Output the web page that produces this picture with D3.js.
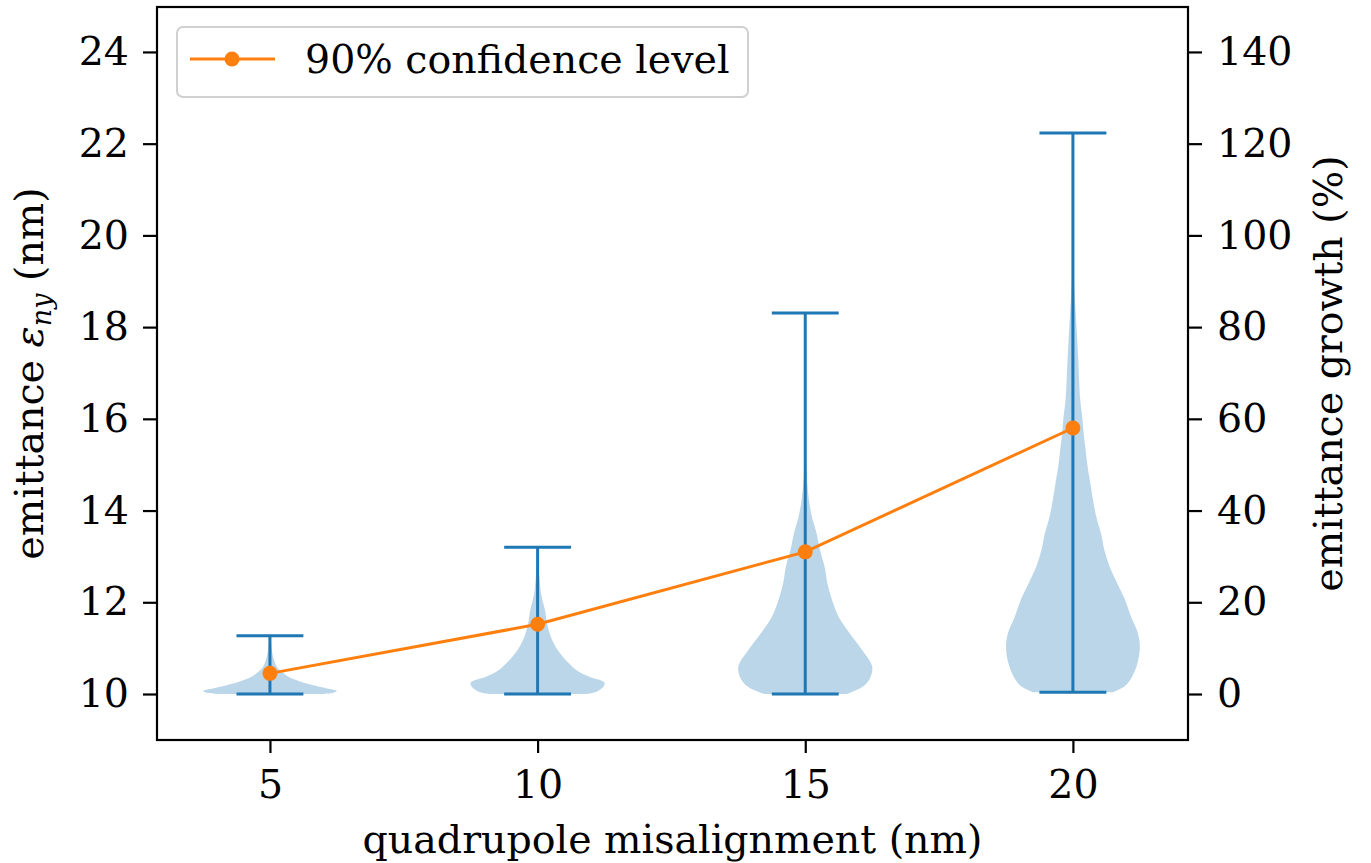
<!DOCTYPE html>
<html>
<head>
<meta charset="utf-8">
<script src="https://cdn.jsdelivr.net/npm/d3@7"></script>
<style>
  body { margin: 0; background: #fff; }
  svg { display: block; }
  text { font-family: "DejaVu Serif", serif; fill: #000; }
</style>
</head>
<body>
<svg id="chart" width="1371" height="863"></svg>
<script>
// ---- data ----
const positions = [5, 10, 15, 20];
const mins = [10.0, 10.0, 10.0, 10.04];
const maxs = [11.27, 13.2, 18.31, 22.23];
const confidence90 = [10.45, 11.52, 13.1, 15.8];
const xTicks = [5, 10, 15, 20];
const yTicks = [10, 12, 14, 16, 18, 20, 22, 24];
const growthTicks = [0, 20, 40, 60, 80, 100, 120, 140];
const legendLabel = "90% confidence level";
const xLabel = "quadrupole misalignment (nm)";
const y2Label = "emittance growth (%)";
// violin density profiles: [emittance, relative half-width]
const violin5 = [[10.0,0.72],[10.03,0.95],[10.07,1.0],[10.12,0.85],[10.2,0.62],[10.3,0.4],[10.4,0.25],[10.5,0.16],[10.6,0.1],[10.8,0.05],[11.0,0.025],[11.27,0.01]];
const violin10 = [[10.0,0.72],[10.05,0.88],[10.15,0.98],[10.25,1.0],[10.37,0.78],[10.5,0.6],[10.68,0.46],[10.96,0.3],[11.24,0.2],[11.55,0.14],[11.83,0.11],[12.0,0.08],[12.2,0.05],[12.5,0.03],[12.8,0.012],[13.2,0.004]];
const violin15 = [[10.0,0.62],[10.15,0.85],[10.35,0.97],[10.6,1.0],[10.96,0.85],[11.33,0.66],[11.68,0.5],[12.05,0.4],[12.42,0.33],[12.77,0.29],[13.14,0.22],[13.5,0.17],[13.86,0.1],[14.23,0.055],[14.6,0.03],[14.95,0.015],[15.5,0.006],[16.5,0.003],[18.31,0.002]];
const violin20 = [[10.04,0.6],[10.2,0.8],[10.6,0.95],[11.03,1.0],[11.33,0.97],[11.68,0.87],[12.05,0.78],[12.42,0.66],[12.77,0.55],[13.14,0.47],[13.5,0.42],[13.86,0.35],[14.23,0.3],[14.6,0.26],[14.95,0.22],[15.32,0.19],[15.69,0.16],[16.04,0.14],[16.41,0.11],[17.13,0.085],[17.87,0.06],[18.6,0.03],[19.3,0.01],[20.5,0.003],[22.23,0.001]];
const violins = [violin5, violin10, violin15, violin20];
const violinWidth = 2.5;

// ---- layout ----
const W = 1371, H = 863;
const m = {left: 157, right: 183, top: 7, bottom: 123};
const pw = W - m.left - m.right, ph = H - m.top - m.bottom;
const blue = "#1f77b4", orange = "#ff7f0e";
const FS = "39.5px";

const svg = d3.select("#chart");
const g = svg.append("g").attr("transform", `translate(${m.left},${m.top})`);

const x = d3.scaleLinear().domain([2.89, 22.15]).range([0, pw]);
const y = d3.scaleLinear().domain([8.997, 24.98]).range([ph, 0]);
const y2 = d3.scaleLinear().domain([(8.997-10)*10, (24.98-10)*10]).range([ph, 0]);

// violins
const halfW = violinWidth / 2;
violins.forEach((prof, i) => {
  const p = positions[i];
  const area = d3.area()
    .curve(d3.curveCatmullRom.alpha(0.5))
    .y(d => y(d[0]))
    .x0(d => x(p - d[1] * halfW))
    .x1(d => x(p + d[1] * halfW));
  g.append("path").datum(prof).attr("d", area)
    .attr("fill", blue).attr("fill-opacity", 0.3).attr("stroke", "none");
});

// violin lines
positions.forEach((p, i) => {
  const cw = violinWidth * 0.25;
  const lg = g.append("g").attr("stroke", blue).attr("stroke-width", 3);
  lg.append("line").attr("x1", x(p)).attr("x2", x(p)).attr("y1", y(mins[i])).attr("y2", y(maxs[i]));
  lg.append("line").attr("x1", x(p - cw)).attr("x2", x(p + cw)).attr("y1", y(mins[i])).attr("y2", y(mins[i]));
  lg.append("line").attr("x1", x(p - cw)).attr("x2", x(p + cw)).attr("y1", y(maxs[i])).attr("y2", y(maxs[i]));
});

// orange line
const line = d3.line().x((d, i) => x(positions[i])).y(d => y(d));
g.append("path").datum(confidence90).attr("d", line)
  .attr("fill", "none").attr("stroke", orange).attr("stroke-width", 3);
g.selectAll("circle.pt").data(confidence90).enter().append("circle")
  .attr("cx", (d, i) => x(positions[i])).attr("cy", d => y(d)).attr("r", 7.5).attr("fill", orange);

// frame
g.append("rect").attr("x", 0).attr("y", 0).attr("width", pw).attr("height", ph)
  .attr("fill", "none").attr("stroke", "#000").attr("stroke-width", 2.2);

// axes
function styleAxis(sel) {
  sel.select(".domain").remove();
  sel.selectAll(".tick line").attr("stroke", "#000").attr("stroke-width", 2.2);
  sel.selectAll(".tick text").style("font-family", "DejaVu Serif").style("font-size", FS).attr("fill", "#000");
}
g.append("g").attr("transform", `translate(0,${ph})`)
  .call(d3.axisBottom(x).tickValues(xTicks).tickSize(13).tickPadding(17).tickFormat(d3.format("d")))
  .call(styleAxis);
g.append("g")
  .call(d3.axisLeft(y).tickValues(yTicks).tickSize(14).tickPadding(14).tickFormat(d3.format("d")))
  .call(styleAxis);
g.append("g").attr("transform", `translate(${pw},0)`)
  .call(d3.axisRight(y2).tickValues(growthTicks).tickSize(14).tickPadding(15).tickFormat(d3.format("d")))
  .call(styleAxis);

// axis labels
svg.append("text").attr("x", m.left + pw / 2).attr("y", 853)
  .attr("text-anchor", "middle").style("font-size", FS).text(xLabel);

const yl = svg.append("text")
  .attr("transform", `translate(43,${m.top + ph / 2}) rotate(-90)`)
  .attr("text-anchor", "middle").style("font-size", FS);
yl.append("tspan").text("emittance ");
yl.append("tspan").style("font-family", "DejaVu Serif").style("font-style", "italic").text("\u03b5");
yl.append("tspan").style("font-family", "DejaVu Serif").style("font-style", "italic").style("font-size", "27px").attr("dy", 8).text("ny");
yl.append("tspan").attr("dy", -8).text(" (nm)");

svg.append("text")
  .attr("transform", `translate(1342,${m.top + ph / 2}) rotate(-90)`)
  .attr("text-anchor", "middle").style("font-size", FS).text(y2Label);

// legend
const lgd = svg.append("g");
lgd.append("rect").attr("x", 177).attr("y", 27).attr("width", 571).attr("height", 70).attr("rx", 6)
  .attr("fill", "#fff").attr("fill-opacity", 0.8).attr("stroke", "#d0d0d0").attr("stroke-width", 2);
lgd.append("line").attr("x1", 190).attr("x2", 275).attr("y1", 59).attr("y2", 59)
  .attr("stroke", orange).attr("stroke-width", 3);
lgd.append("circle").attr("cx", 232).attr("cy", 59).attr("r", 7.5).attr("fill", orange);
lgd.append("text").attr("x", 305).attr("y", 73).style("font-size", FS).text(legendLabel);
</script>
</body>
</html>
